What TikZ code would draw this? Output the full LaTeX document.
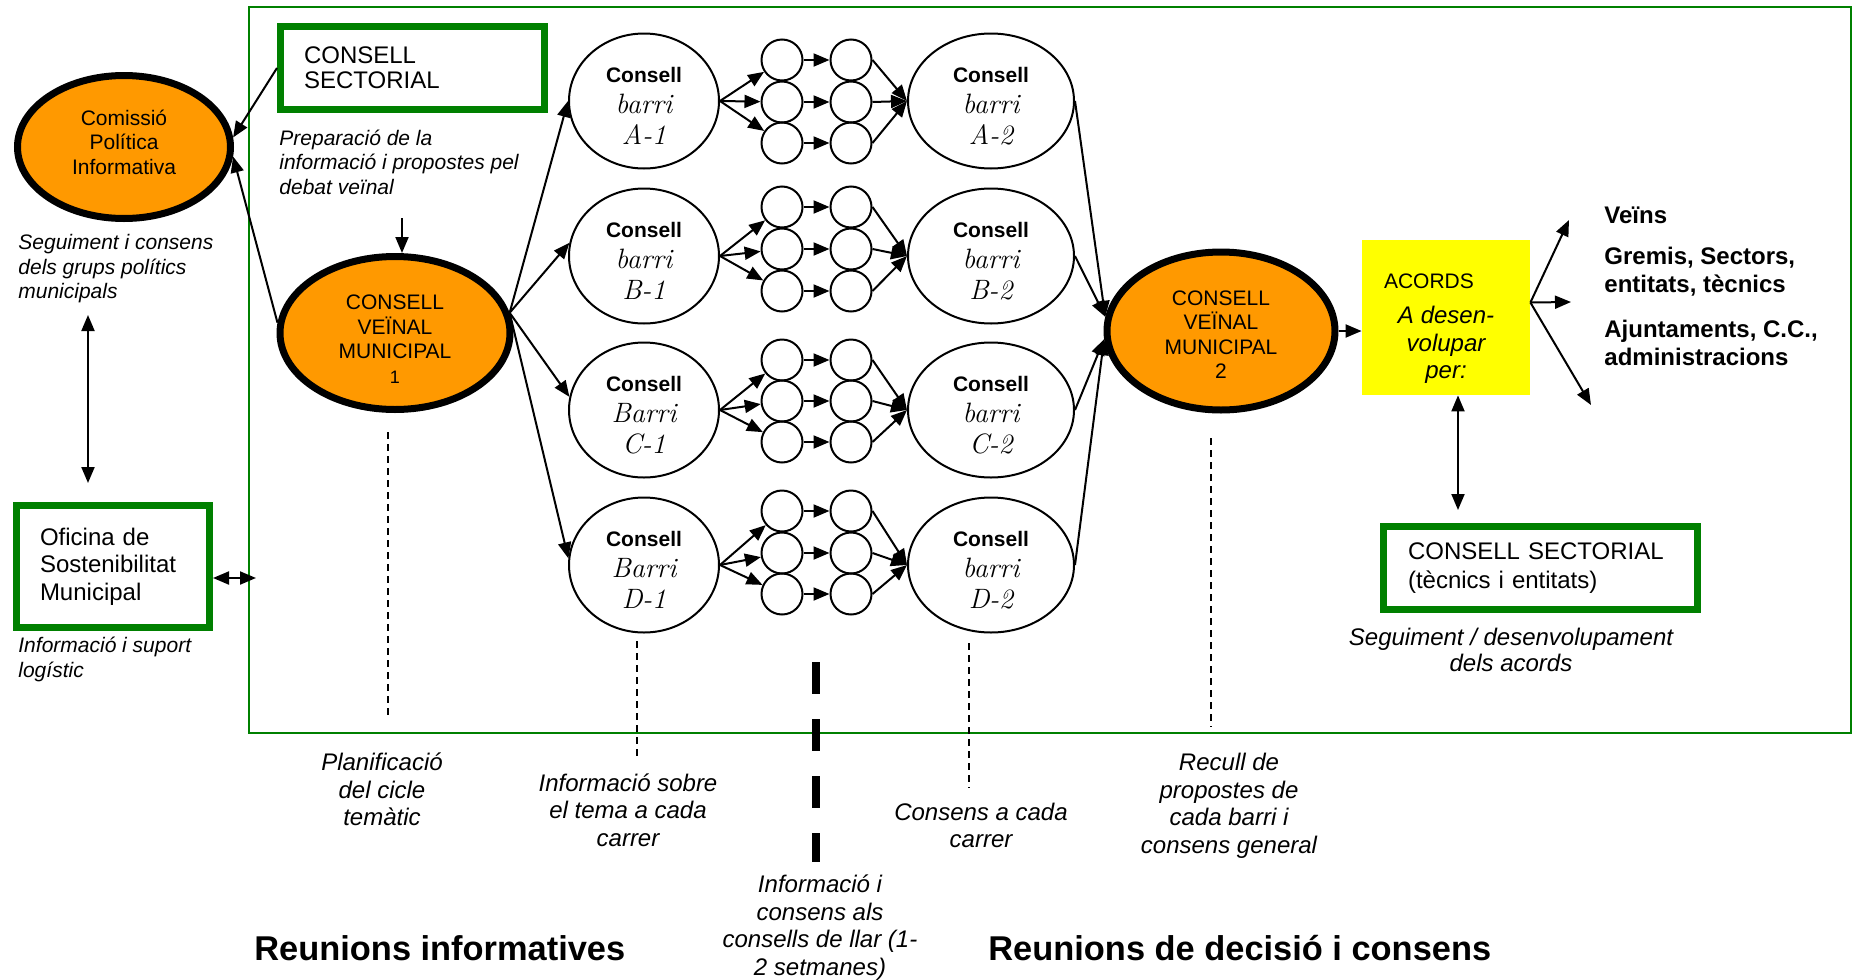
\documentclass[tikz,border=0pt]{standalone}
\usepackage{fontspec}
\setsansfont{Liberation Sans}
\renewcommand{\familydefault}{\sfdefault}
\usepackage{tikz}
\usetikzlibrary{shapes.geometric,arrows.meta,positioning}

\definecolor{orangefill}{RGB}{255,153,0}
\definecolor{boxgreen}{RGB}{0,128,0}
\definecolor{acordsyellow}{RGB}{255,255,0}
\newcommand{\handtext}{\rmfamily\itshape\fontsize{14}{14}\selectfont}
\newcommand{\barritext}[2]{\rule{0pt}{12.4pt}\textbf{Consell}\\{\handtext #1}\\{\handtext #2}}

\tikzset{
  bigoval/.style={draw, ellipse, line width=3.5pt, fill=orangefill, inner sep=0pt, align=center, font=\fontsize{10.5}{12.25}\selectfont},
  barri/.style={draw, ellipse, line width=1pt, inner sep=0pt, minimum height=67.5pt, align=center, font=\fontsize{10.5}{15.5}\selectfont},
  dot/.style={draw, circle, line width=1pt, minimum size=20.5pt, inner sep=0pt},
  greenbox/.style={draw=boxgreen, line width=3.5pt, rectangle, inner ysep=0pt, align=left, minimum height=41.5pt},
  note/.style={inner sep=0pt, anchor=west, align=left, font=\fontsize{10.5}{12.25}\selectfont\itshape},
  bignote/.style={inner sep=0pt, align=center, font=\fontsize{12}{13.75}\selectfont\itshape},
  target/.style={inner sep=0pt, anchor=west, align=left, font=\fontsize{12}{14}\selectfont\bfseries},
  title/.style={inner sep=0pt, anchor=west, font=\fontsize{17.2}{20}\selectfont\bfseries},
  conn/.style={->, line width=1pt},
  guide/.style={line width=0.7pt, dash pattern=on 3.5pt off 2.5pt}
}

\begin{document}
\begin{tikzpicture}[x=0.5pt, y=-0.5pt, >={Triangle[length=8pt,width=6.5pt]}]
        \useasboundingbox (0,0) rectangle (1854,980);
        \draw[draw=boxgreen, line width=1.2pt] (249,7) rectangle (1851,733);

        % Left column - political side
        \node[bigoval, minimum width=106.5pt, minimum height=71.5pt] (com) at (124,147) {Comissió\\Política\\Informativa\rule[-5pt]{0pt}{5pt}};
        \node[note] (segcom) at (18,269) {Seguiment i consens\\dels grups polítics\\municipals};
        \node[greenbox, minimum width=96.5pt, minimum height=61pt, inner xsep=11.75pt, text width=73pt, font=\fontsize{12}{13.75}\selectfont] (ofi) at (113,566.5) {Oficina de\\Sostenibilitat\\Municipal};
        \node[note] (suport) at (18,659.5) {Informació i suport\\logístic};

        % Preparation and first municipal council
        \node[greenbox, minimum width=132pt, inner xsep=11.75pt, text width=108.5pt, font=\fontsize{12}{12.5}\selectfont] (cs1) at (412.5,68) {CONSELL\\SECTORIAL};
        \node[note] (prep) at (279,162) {Preparació de la\\informació i propostes pel\\debat veïnal};
        \node[bigoval, minimum width=115pt, minimum height=76.5pt] (cvm1) at (395,333) {\rule{0pt}{13.5pt}CONSELL\\VEÏNAL\\MUNICIPAL\\{\fontsize{9}{9}\selectfont 1}};

        % Neighbourhood councils, first round
        \node[barri, minimum width=75pt] (ba1) at (644,101) {\barritext{barri}{A-1}};
        \node[barri, minimum width=75pt] (bb1) at (644,256) {\barritext{barri}{B-1}};
        \node[barri, minimum width=75pt] (bc1) at (644,410) {\barritext{Barri}{C-1}};
        \node[barri, minimum width=75pt] (bd1) at (644,565) {\barritext{Barri}{D-1}};

        % Neighbourhood councils, second round
        \node[barri, minimum width=83pt] (ba2) at (991,101) {\barritext{barri}{A-2}};
        \node[barri, minimum width=83pt] (bb2) at (991,256) {\barritext{barri}{B-2}};
        \node[barri, minimum width=83pt] (bc2) at (991,410) {\barritext{barri}{C-2}};
        \node[barri, minimum width=83pt] (bd2) at (991,565) {\barritext{barri}{D-2}};

        % Household councils between the two rounds
        \foreach \r/\ya/\yb/\yc in {a/60/102/143, b/207/249/291, c/360/401/442, d/511/553/594} {
            \node[dot] (\r-i1) at (782,\ya) {};
            \node[dot] (\r-i2) at (782,\yb) {};
            \node[dot] (\r-i3) at (782,\yc) {};
            \node[dot] (\r-o1) at (851,\ya) {};
            \node[dot] (\r-o2) at (851,\yb) {};
            \node[dot] (\r-o3) at (851,\yc) {};
            \foreach \k in {1,2,3} {
                \draw[conn] (b\r1.east) -- (\r-i\k);
                \draw[conn] (\r-i\k) -- (\r-o\k);
                \draw[conn] (\r-o\k.east) -- (b\r2.west);
            }
        }

        % Second municipal council and agreements
        \node[bigoval, minimum width=114pt, minimum height=79pt] (cvm2) at (1221,331) {\rule{0pt}{11pt}CONSELL\\VEÏNAL\\MUNICIPAL\\2};
        \node[fill=acordsyellow, minimum width=84pt, minimum height=77.5pt, inner xsep=11pt, text width=62pt, align=center, font=\fontsize{10.5}{13.6}\selectfont] (acords) at (1446,317.5) {\makebox[62pt][l]{\rule{0pt}{18.5pt}ACORDS}\\[4pt]{\fontsize{12}{13.6}\selectfont\itshape A desen-}\\{\fontsize{12}{13.6}\selectfont\itshape volupar}\\{\fontsize{12}{13.6}\selectfont\itshape per:}};
        \node[target] (veins) at (1604,215) {Veïns};
        \node[target] (gremis) at (1604,272) {Gremis, Sectors,\\entitats, tècnics};
        \node[target] (ajunt) at (1604,343) {Ajuntaments, C.C.,\\administracions};
        \node[greenbox, minimum width=157pt, inner xsep=12.25pt, text width=132.5pt, font=\fontsize{12}{14.5}\selectfont] (cs2) at (1540.5,568) {CONSELL SECTORIAL\\(tècnics i entitats)};
        \node[bignote, font=\fontsize{12}{13}\selectfont\itshape] (segacords) at (1511,650) {Seguiment / desenvolupament\\dels acords};

        % Captions under the cycle
        \node[bignote] (planif) at (382,789.5) {Planificació\\del cicle\\temàtic};
        \node[bignote] (infotema) at (628,810) {Informació sobre\\el tema a cada\\carrer};
        \node[bignote] (llar) at (820,927.5) {Informació i\\consens als\\consells de llar (1-\\2 setmanes)};
        \node[bignote] (consens) at (981,825.5) {Consens a cada\\carrer};
        \node[bignote] (recull) at (1229,806) {Recull de\\propostes de\\cada barri i\\consens general};
        \node[title] (reuinfo) at (254,948) {Reunions informatives};
        \node[title] (reudec) at (988,948) {Reunions de decisió i consens};

        % Free ends
        \coordinate (prepend) at (402,218);
        \coordinate (lnktop) at (88,315);
        \coordinate (lnkbot) at (88,483);
        \coordinate (framein) at (256,578);
        \coordinate (toveins) at (1569,220);
        \coordinate (togremis) at (1571,302);
        \coordinate (toajunt) at (1591,405);

        % Connectors
        \draw[conn] (cs1.west) -- (com.5);
        \draw[conn] (cvm1.175) -- (com.-5);
        \draw[conn] (prepend) -- (prepend |- cvm1.north);
        \draw[<->, line width=1pt] (lnktop) -- (lnkbot);
        \draw[<->, line width=1pt] (ofi.east |- framein) -- (framein);
        \draw[conn] (cvm1.10) -- (ba1.west);
        \draw[conn] (cvm1.10) -- (bb1.170);
        \draw[conn] (cvm1.10) -- (bc1.170);
        \draw[conn] (cvm1.10) -- (bd1.175);
        \draw[conn] (ba2.east) -- (cvm2.173);
        \draw[conn] (bb2.east) -- (cvm2.173);
        \draw[conn] (bc2.east) -- (cvm2.184);
        \draw[conn] (bd2.east) -- (cvm2.184);
        \draw[conn] (cvm2.east) -- (cvm2.east -| acords.west);
        \draw[conn] ([yshift=7.5pt]acords.east) -- (toveins);
        \draw[conn] ([yshift=7.5pt]acords.east) -- (togremis);
        \draw[conn] ([yshift=7.5pt]acords.east) -- (toajunt);
        \draw[<->, line width=1pt, shorten >=6.5pt] ([xshift=6pt]acords.south) -- ([xshift=6pt]acords.south |- cs2.north);

        % Time guides
        \draw[guide] (388,432) -- (388,718);
        \draw[guide] (637,641) -- (637,760);
        \draw[guide] (969,643) -- (969,788);
        \draw[guide] (1211,438) -- (1211,727);
        \draw[line width=4pt, dash pattern=on 16pt off 12.5pt] (816,662) -- (816,862);
    \end{tikzpicture}
\end{document}
